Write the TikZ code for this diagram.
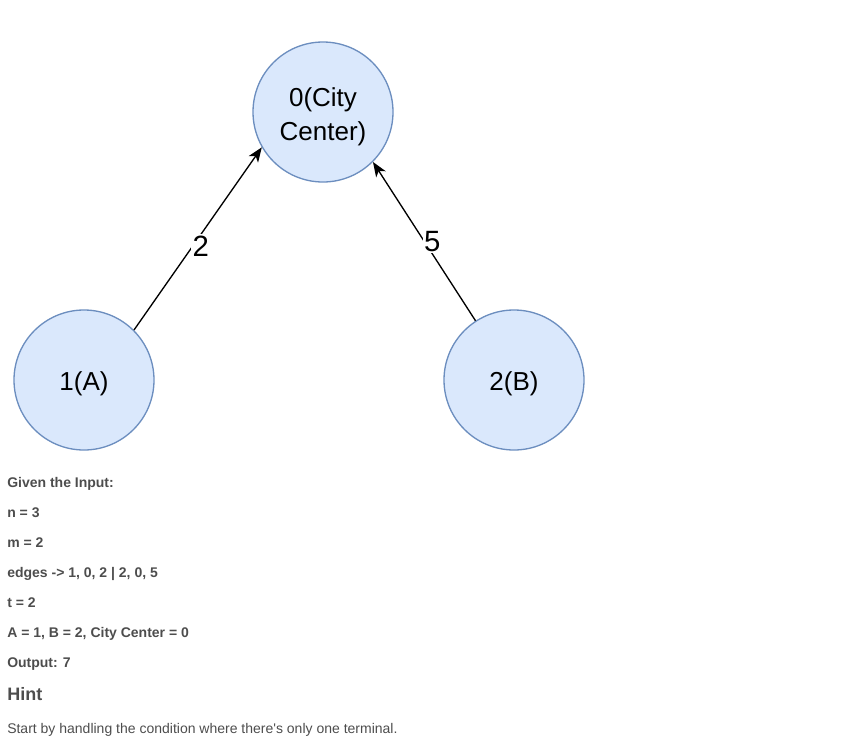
\documentclass[tikz,border=0pt]{standalone}
\usepackage{fontspec}
\setmainfont{Liberation Sans}
\usepackage{tikz}
\usetikzlibrary{arrows.meta}
\definecolor{nodefill}{HTML}{DAE8FC}
\definecolor{nodeline}{HTML}{6C8EBF}
\definecolor{txtgray}{HTML}{4D4D4D}

\begin{document}
\begin{tikzpicture}[x=0.75pt, y=-0.75pt,
        city/.style={circle, draw=nodeline, fill=nodefill, line width=1pt, minimum size=105pt,
                     inner sep=0pt, align=center, text height=19pt, text depth=4pt,
                     font=\fontsize{19.5}{25.5}\selectfont},
        road/.style={line width=1pt, -{Stealth[length=11pt, width=8.5pt, inset=3pt]}},
        cost/.style={fill=white, inner sep=1pt, xshift=6pt, font=\fontsize{22}{26}\selectfont},
        info/.style={anchor=base west, inner sep=0pt, text=txtgray, font=\fontsize{10.5}{12}\selectfont\bfseries}]
        \useasboundingbox (0,0) rectangle (843,747);

        \node[city, text height=47pt] (center) at (323,112) {0(City\\Center)}; % city center
        \node[city] (a)      at (84,380)  {1(A)};                     % terminal A
        \node[city] (b)      at (514,380) {2(B)};                     % terminal B

        \draw[road] (a.45)  -- (center.210) node[cost, pos=.46] {2}; %
        \draw[road] (b.123) -- (center.315) node[cost, pos=.5]  {5}; %

        \node[info] (given)  at (7,487.5) {Given the Input:};         %
        \node[info] (nval)   at (7,517.5) {n = 3};                    %
        \node[info] (mval)   at (7,547.5) {m = 2};                    %
        \node[info] (edges)  at (7,577.5) {edges -> 1, 0, 2 | 2, 0, 5}; %
        \node[info] (tval)   at (7,607.5) {t = 2};                    %
        \node[info] (labels) at (7,637.5) {A = 1, B = 2, City Center = 0}; %
        \node[info] (output) at (7,667.5) {Output: 7};                %
        \node[info, font=\fontsize{13.5}{16}\selectfont\bfseries] (hint) at (7,700) {Hint}; %
        \node[info, font=\fontsize{10.5}{12}\selectfont] (tip) at (7,733)
            {Start by handling the condition where there\textquotesingle s only one terminal.}; %
\end{tikzpicture}
\end{document}
